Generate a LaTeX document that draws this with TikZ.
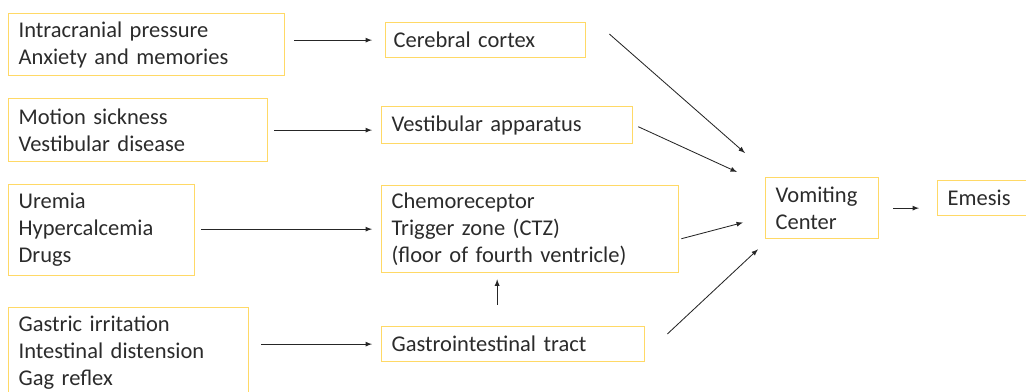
\documentclass[tikz,border=0pt]{standalone}
\usepackage{fontspec}
\setmainfont{Carlito}
\usepackage{tikz}

\definecolor{boxgold}{HTML}{FFD966}
\definecolor{txtgray}{HTML}{2B2B2B}

\tikzset{
  box/.style={draw=boxgold, line width=0.9pt, anchor=north west, align=left,
    inner xsep=0.25cm, inner ysep=2pt, text=txtgray,
    font=\fontsize{16}{19.2}\selectfont},
  arr/.style={->, line width=0.6pt, black!85, shorten <=0.2cm, shorten >=0.25cm}
}

\begin{document}
\begin{tikzpicture}[x=0.025cm,y=-0.025cm,>=latex]
  \useasboundingbox (0,0) rectangle (1026,392);
  % causes
  \node[box, text width=6.4cm, minimum height=1.55cm] (in1) at (8,13)
    {Intracranial pressure\\Anxiety and memories};
  \node[box, text width=5.975cm, minimum height=1.575cm] (in2) at (8,98)
    {Motion sickness\\Vestibular disease};
  \node[box, text width=4.15cm, minimum height=2.275cm] (in3) at (8,184)
    {Uremia\\Hypercalcemia\\Drugs};
  \node[box, text width=5.5cm, minimum height=2.25cm] (in4) at (8,307)
    {Gastric irritation\\Intestinal distension\\Gag reflex};
  % pathways
  \node[box, text width=4.6cm, minimum height=0.875cm, inner xsep=0.2cm] (cortex) at (385,22)
    {Cerebral cortex};
  \node[box, text width=5.775cm, minimum height=0.925cm] (vest) at (381,106)
    {Vestibular apparatus};
  \node[box, text width=6.925cm, minimum height=2.175cm] (ctz) at (381,185)
    {Chemoreceptor\\Trigger zone (CTZ)\\(floor of fourth ventricle)};
  \node[box, text width=6.075cm, minimum height=0.875cm] (gi) at (381,326)
    {Gastrointestinal tract};
  % centre and outcome
  \node[box, text width=2.325cm, minimum height=1.525cm] (vc) at (765,177)
    {Vomiting\\Center};
  \node[box, text width=1.875cm, minimum height=0.875cm] (emesis) at (937,180)
    {Emesis};

  \draw[arr, shorten <=0.225cm, shorten >=0.325cm] (cortex.west -| in1.east) -- (cortex.west);
  \draw[arr, shorten <=0.15cm, shorten >=0.225cm] (in2.east) -- (in2.east -| vest.west);
  \draw[arr, shorten <=0.15cm, shorten >=0.225cm] (ctz.west -| in3.east) -- (ctz.west);
  \draw[arr, shorten <=0.3cm, shorten >=0.225cm] (gi.west -| in4.east) -- (gi.west);
  \draw[arr, shorten <=0.525cm, shorten >=0.15cm] ([xshift=-0.4cm]gi.north) -- ([xshift=-0.4cm]gi.north |- ctz.south);

  \draw[arr, shorten <=0pt, shorten >=0pt] ([shift={(0.575cm,-0.3cm)}]cortex.north east) -- ([shift={(-0.5cm,0.6cm)}]vc.north west);
  \draw[arr, shorten <=0pt, shorten >=0pt] ([shift={(0.125cm,-0.04cm)}]vest.east) -- ([shift={(-0.7cm,0.125cm)}]vc.north west);
  \draw[arr, shorten <=0pt, shorten >=0pt] ([shift={(0.05cm,-0.24cm)}]ctz.east) -- ([shift={(-0.55cm,-0.36cm)}]vc.west);
  \draw[arr, shorten <=0pt, shorten >=0pt] ([shift={(0.55cm,-0.2cm)}]gi.north east) -- ([shift={(-0.175cm,-0.25cm)}]vc.south west);
  \draw[arr, shorten <=0.35cm, shorten >=0.45cm] (vc.east) -- (vc.east -| emesis.west);
\end{tikzpicture}
\end{document}
